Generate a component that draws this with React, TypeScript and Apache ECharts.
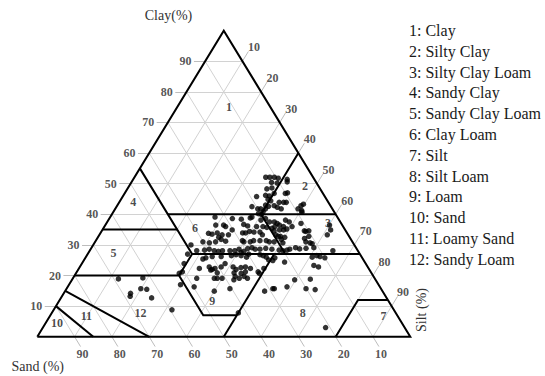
import React, { useEffect, useRef } from "react";
import * as echarts from "echarts";

// Soil sample composition (%): clay and silt; sand = 100 - clay - silt
const sampleClay = [
  52.1, 52.1, 52.1, 51.8, 51.4, 50.6, 50.4, 50.2, 48.3, 48.6, 45.8, 46.2, 46.0, 46.8, 46.8, 47.0, 44.9, 44.4, 43.9, 43.9,
  43.9, 43.3, 42.8, 43.0, 42.6, 42.8, 42.3, 41.8, 42.5, 41.8, 41.8, 40.9, 41.8, 40.2, 39.9, 41.8, 41.2, 40.7, 39.1, 38.6,
  38.8, 39.1, 38.4, 38.1, 38.6, 37.5, 37.5, 37.0, 38.1, 37.5, 36.0, 37.0, 36.0, 36.5, 36.0, 35.2, 36.5, 36.5, 36.0, 36.7,
  36.2, 36.0, 36.0, 35.7, 35.4, 34.6, 34.9, 34.9, 34.6, 34.4, 34.6, 36.5, 34.9, 33.8, 33.5, 33.9, 33.3, 32.5, 33.3, 34.9,
  33.9, 33.9, 34.4, 34.2, 34.2, 33.3, 33.3, 32.8, 32.8, 32.5, 32.1, 32.8, 33.3, 31.0, 30.7, 31.0, 31.8, 31.2, 31.4, 31.0,
  31.0, 31.4, 31.4, 31.4, 31.0, 31.0, 31.8, 30.7, 31.0, 30.7, 30.4, 30.0, 28.1, 28.3, 28.6, 28.1, 27.9, 28.1, 28.1, 28.1,
  28.6, 27.5, 27.9, 28.8, 29.1, 28.6, 28.6, 28.9, 28.6, 28.3, 28.1, 28.3, 28.6, 29.1, 28.7, 28.9, 29.1, 28.1, 27.0, 25.4,
  25.8, 26.2, 26.2, 26.5, 26.8, 26.5, 26.0, 27.0, 26.8, 26.5, 26.0, 25.1, 24.9, 25.8, 24.4, 26.0, 26.5, 26.2, 25.8, 23.3,
  22.8, 23.9, 22.3, 22.8, 21.8, 22.0, 22.3, 20.9, 22.8, 23.9, 22.8, 22.0, 22.6, 22.8, 22.3, 20.9, 19.7, 20.7, 21.2, 21.2,
  20.7, 22.3, 20.7, 21.2, 19.1, 19.1, 19.1, 19.1, 18.6, 19.1, 19.7, 19.1, 18.6, 18.8, 17.0, 16.3, 14.9, 15.7, 14.9, 15.7,
  15.7, 16.3, 15.7, 15.4, 7.8, 8.8, 3.0, 18.9, 19.2, 15.7, 15.5, 14.2, 13.2, 12.7,
];
const sampleSilt = [
  35.2, 36.3, 37.5, 38.7, 41.3, 41.7, 37.6, 39.2, 37.4, 38.6, 35.9, 38.1, 39.2, 40.1, 43.1, 43.6, 39.4, 40.4, 42.9, 44.1,
  44.8, 49.7, 49.3, 39.7, 40.7, 42.1, 43.2, 44.5, 36.3, 38.2, 39.0, 40.1, 40.3, 39.2, 40.2, 49.0, 50.3, 50.6, 28.1, 33.0,
  37.7, 38.0, 35.5, 40.9, 41.9, 43.5, 44.8, 45.8, 47.5, 48.8, 50.3, 52.2, 45.7, 46.7, 48.0, 49.3, 29.6, 31.7, 32.5, 37.0,
  38.3, 40.8, 42.5, 43.7, 45.2, 46.2, 47.5, 48.6, 54.3, 54.8, 55.5, 60.1, 61.2, 29.0, 30.1, 31.3, 32.9, 32.4, 34.6, 34.8,
  38.1, 38.9, 39.7, 41.0, 42.6, 43.7, 47.3, 48.2, 48.8, 50.1, 55.6, 56.4, 61.1, 28.9, 30.8, 32.3, 33.4, 34.9, 39.3, 39.9,
  41.6, 42.3, 44.0, 45.7, 46.7, 48.0, 49.5, 50.5, 56.5, 57.8, 58.5, 26.2, 28.7, 30.7, 31.8, 33.4, 34.6, 35.6, 37.6, 38.9,
  39.8, 40.9, 41.4, 42.0, 43.0, 44.1, 45.4, 46.8, 48.6, 50.7, 51.8, 52.8, 53.4, 54.7, 56.0, 57.6, 59.6, 65.2, 26.8, 31.7,
  32.3, 33.8, 36.2, 38.8, 39.9, 41.4, 43.1, 43.2, 46.3, 47.3, 48.4, 49.5, 50.7, 50.8, 54.1, 60.7, 61.7, 62.7, 64.2, 62.5,
  64.0, 27.4, 32.3, 34.7, 35.6, 35.9, 36.5, 37.8, 37.9, 38.4, 41.1, 42.3, 43.3, 44.4, 46.0, 42.3, 43.2, 44.3, 45.2, 48.6,
  49.2, 49.6, 27.7, 28.3, 33.2, 37.9, 38.7, 40.0, 43.4, 44.6, 45.6, 46.8, 59.7, 63.8, 29.9, 33.9, 40.0, 43.8, 53.5, 55.3,
  55.7, 58.8, 64.2, 66.8, 50.0, 31.7, 75.8, 12.3, 18.7, 19.9, 21.6, 17.9, 18.3, 24.3,
];

// Axis tick values (%)
const clayTicks = [10, 20, 30, 40, 50, 60, 70, 80, 90];
const sandTicks = [10, 20, 30, 40, 50, 60, 70, 80, 90];
const siltTicks = [10, 20, 30, 40, 50, 60, 70, 80, 90];

// USDA texture class boundaries as polylines of [clay, silt] points
const classBoundaries: number[][][] = [
  [[0, 15], [10, 0]],
  [[0, 30], [15, 0]],
  [[20, 0], [20, 28], [7, 41], [7, 50]],
  [[35, 0], [35, 20]],
  [[55, 0], [27, 28], [20, 28]],
  [[0, 50], [27, 50]],
  [[27, 28], [27, 73]],
  [[40, 15], [40, 60]],
  [[27, 53], [40, 40], [60, 40]],
  [[0, 80], [12, 80], [12, 88]],
];
const outline: number[][] = [[0, 0], [0, 100], [100, 0], [0, 0]];

// Class number labels placed at [clay, silt]
const classIds = ["1", "2", "3", "4", "5", "6", "7", "8", "9", "10", "11", "12"];
const classLabelClay = [75, 49.2, 37.1, 44.1, 27.3, 35.5, 6.9, 7.9, 11.8, 4.6, 6.9, 7.6];
const classLabelSilt = [13.9, 47.2, 59.4, 3.7, 6.8, 24.5, 89.4, 67.2, 41.0, 3.0, 9.7, 23.9];

const legendItems = [
  "1: Clay",
  "2: Silty Clay",
  "3: Silty Clay Loam",
  "4: Sandy Clay",
  "5: Sandy Clay Loam",
  "6: Clay Loam",
  "7: Silt",
  "8: Silt Loam",
  "9: Loam",
  "10: Sand",
  "11: Loamy Sand",
  "12: Sandy Loam",
];

const toXY = (clay: number, silt: number) => [silt + clay / 2, clay];

export default function App() {
  const ref = useRef<HTMLDivElement>(null);
  useEffect(() => {
    if (!ref.current) return;
    document.body.style.margin = "0";
    const chart = echarts.init(ref.current, null, { renderer: "svg" });

    const gridSegs: any[] = [];
    for (let k = 10; k <= 90; k += 10) {
      gridSegs.push({ coords: [toXY(k, 0), toXY(k, 100 - k)] });
      gridSegs.push({ coords: [toXY(0, 100 - k), toXY(100 - k, 0)] });
      gridSegs.push({ coords: [toXY(0, k), toXY(100 - k, k)] });
    }
    const tickSegs: any[] = [];
    const clayLabelData: any[] = [];
    const sandLabelData: any[] = [];
    const siltLabelData: any[] = [];
    clayTicks.forEach((k) => {
      const p = toXY(k, 0);
      const e = [p[0] - 3, p[1]];
      tickSegs.push({ coords: [p, e] });
      clayLabelData.push([e[0], e[1], String(k)]);
    });
    sandTicks.forEach((k) => {
      const p = toXY(0, 100 - k);
      const e = [p[0] + 1.6, p[1] - 3.2];
      tickSegs.push({ coords: [p, e] });
      sandLabelData.push([e[0], e[1], String(k)]);
    });
    siltTicks.forEach((k) => {
      const p = toXY(100 - k, k);
      const e = [p[0] + 1.6, p[1] + 3.2];
      tickSegs.push({ coords: [p, e] });
      siltLabelData.push([e[0], e[1], String(k)]);
    });

    const boundaryData = [outline, ...classBoundaries].map((pl) => ({
      coords: pl.map((q) => toXY(q[0], q[1])),
    }));

    const points = sampleClay.map((c, i) => toXY(c, sampleSilt[i]));
    const classLabelData = classIds.map((id, i) => {
      const p = toXY(classLabelClay[i], classLabelSilt[i]);
      return [p[0], p[1], id];
    });

    const tickFont = {
      fontFamily: "Liberation Serif",
      fontWeight: "bold" as const,
      fontSize: 12,
      color: "#2a2a2a",
    };
    const labelScatter = (data: any[], label: any) => ({
      type: "scatter",
      data,
      symbolSize: 1,
      itemStyle: { color: "rgba(0,0,0,0)" },
      silent: true,
      z: 5,
      label: { show: true, formatter: (p: any) => p.value[2], ...tickFont, ...label },
    });

    const serif = "Liberation Serif";
    const graphic: any[] = [
      {
        type: "text",
        x: 168.5,
        y: 15.7,
        style: {
          text: "Clay(%)",
          fontFamily: serif,
          fontSize: 14,
          fill: "#333",
          align: "center",
          verticalAlign: "middle",
          textAlign: "center",
          textVerticalAlign: "middle",
        },
      },
      {
        type: "text",
        x: 11.5,
        y: 366.5,
        style: {
          text: "Sand (%)",
          fontFamily: serif,
          fontSize: 14,
          fill: "#333",
          align: "left",
          verticalAlign: "middle",
          textAlign: "left",
          textVerticalAlign: "middle",
        },
      },
      {
        type: "text",
        x: 421,
        y: 310,
        rotation: Math.PI / 2,
        style: {
          text: "Silt (%)",
          fontFamily: serif,
          fontSize: 14,
          fill: "#333",
          align: "center",
          verticalAlign: "middle",
          textAlign: "center",
          textVerticalAlign: "middle",
        },
      },
      ...legendItems.map((t, i) => ({
        type: "text",
        x: 409,
        y: 30.5 + i * 20.8,
        style: {
          text: t,
          fontFamily: serif,
          fontSize: 16,
          fill: "#1a1a1a",
          align: "left",
          verticalAlign: "middle",
          textAlign: "left",
          textVerticalAlign: "middle",
        },
      })),
    ];

    chart.setOption({
      animation: false,
      backgroundColor: "#ffffff",
      grid: { left: -23.56, right: 97.44, top: -12.37, bottom: 8.63 },
      xAxis: { type: "value", min: -10, max: 110, show: false },
      yAxis: { type: "value", min: -10, max: 110, show: false },
      graphic,
      series: [
        {
          type: "lines",
          coordinateSystem: "cartesian2d",
          data: gridSegs,
          lineStyle: { color: "#d2d2d2", width: 1, opacity: 1 },
          silent: true,
          z: 1,
        },
        {
          type: "lines",
          coordinateSystem: "cartesian2d",
          data: tickSegs,
          lineStyle: { color: "#bdbdbd", width: 1, opacity: 1 },
          silent: true,
          z: 1,
        },
        {
          type: "lines",
          coordinateSystem: "cartesian2d",
          polyline: true,
          data: boundaryData,
          lineStyle: { color: "#000", width: 2, opacity: 1 },
          silent: true,
          z: 3,
        },
        {
          type: "scatter",
          data: points,
          symbolSize: 5.5,
          itemStyle: { color: "#000" },
          z: 4,
        },
        labelScatter(clayLabelData, { position: "left", distance: 2 }),
        labelScatter(sandLabelData, { position: "bottom", distance: 1, offset: [2, 0] }),
        labelScatter(siltLabelData, { position: "right", distance: 0, offset: [-1, -4] }),
        labelScatter(classLabelData, { position: "inside", color: "#1a1a1a" }),
      ],
    });
    return () => chart.dispose();
  }, []);
  return (
    <div
      ref={ref}
      style={{ position: "fixed", left: 0, top: 0, width: 545, height: 376 }}
    />
  );
}
